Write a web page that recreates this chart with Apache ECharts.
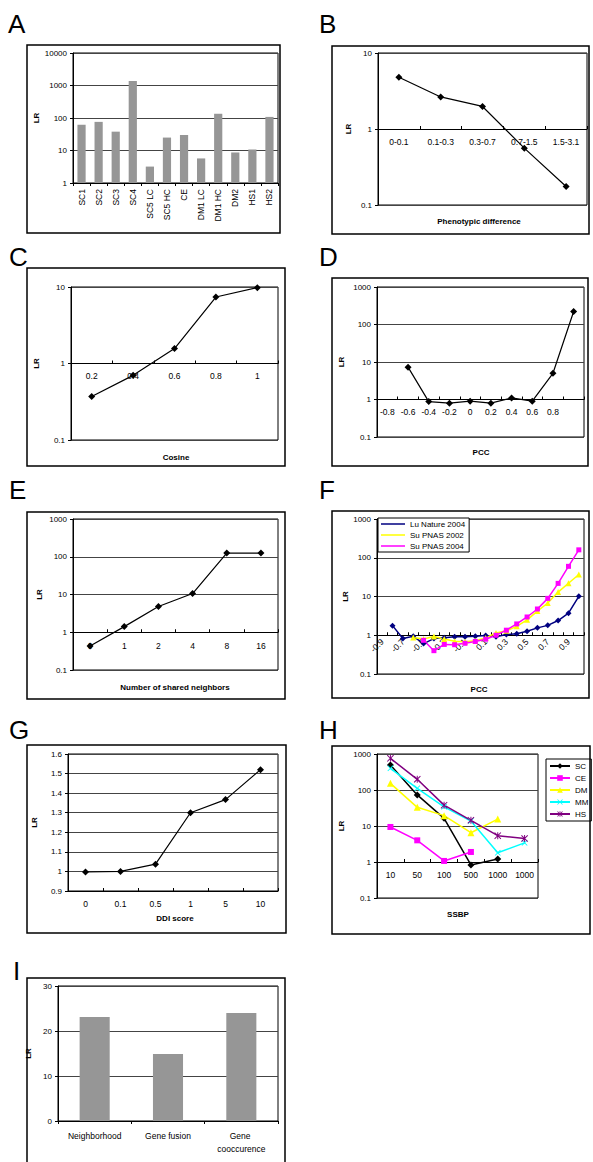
<!DOCTYPE html>
<html><head><meta charset="utf-8">
<script src="https://cdn.jsdelivr.net/npm/echarts@6/dist/echarts.min.js"></script>
<style>html,body{margin:0;padding:0;background:#fff}#c{width:593px;height:1162px}</style>
</head><body><div id="c"></div>
<script>
// ---------- DATA ----------
const aCategories = ['SC1','SC2','SC3','SC4','SC5 LC','SC5 HC','CE','DM1 LC','DM1 HC','DM2','HS1','HS2'];
const aValues = [62, 76, 38, 1380, 3.2, 25, 30, 5.7, 135, 8.7, 10.7, 108];

const bCategories = ['0-0.1','0.1-0.3','0.3-0.7','0.7-1.5','1.5-3.1'];
const bValues = [4.8, 2.64, 1.98, 0.56, 0.175];

const cCategories = ['0.2','0.4','0.6','0.8','1'];
const cValues = [0.37, 0.70, 1.57, 7.4, 9.8];

const dCategories = ['-0.8','-0.6','-0.4','-0.2','0','0.2','0.4','0.6','0.8','1'];
const dTickLabels = ['-0.8','-0.6','-0.4','-0.2','0','0.2','0.4','0.6','0.8',''];
const dValues = [null, 7.3, 0.88, 0.80, 0.90, 0.80, 1.1, 0.90, 5.0, 222];

const eCategories = ['0','1','2','4','8','16'];
const eValues = [0.43, 1.41, 4.8, 10.6, 125, 125];

const fCategories = ['-0.9','-0.8','-0.7','-0.6','-0.5','-0.4','-0.3','-0.2','-0.1','0','0.1','0.2','0.3','0.4','0.5','0.6','0.7','0.8','0.9','1'];
const fLuNature2004 = [null, 1.77, 0.82, 0.94, 0.61, 0.82, 0.86, 0.91, 0.92, 0.94, 0.98, 0.92, 1.04, 1.1, 1.27, 1.55, 1.8, 2.4, 3.7, 10.1];
const fSuPNAS2002 = [null, null, null, 0.88, 0.8, 0.93, 0.8, 0.7, 0.68, 0.72, 0.85, 1.15, 1.3, 1.7, 2.5, 4.2, 6.8, 13, 22, 37];
const fSuPNAS2004 = [null, null, null, null, 0.74, 0.40, 0.58, 0.57, 0.62, 0.69, 0.79, 1.0, 1.35, 1.96, 2.96, 4.76, 8.95, 21.8, 60, 160];

const gCategories = ['0','0.1','0.5','1','5','10'];
const gValues = [0.997, 1.0, 1.037, 1.30, 1.367, 1.52];

const hCategories = ['10','50','100','500','1000','1000'];
const hSC = [495, 73, 16.3, 0.83, 1.21, null];
const hCE = [9.4, 4.0, 1.07, 1.9, null, null];
const hDM = [153, 33, 19.4, 6.5, 15.6, null];
const hMM = [400, 111, 34, 13.8, 1.8, 3.4];
const hHS = [757, 198, 38, 14.4, 5.4, 4.5];

const iCategories = ['Neighborhood','Gene fusion','Gene cooccurence'];
const iValues = [23.1, 14.9, 24.0];

const panelLetters = ['A','B','C','D','E','F','G','H','I'];
const xTitles = ['', 'Phenotypic difference', 'Cosine', 'PCC', 'Number of shared neighbors', 'PCC', 'DDI score', 'SSBP', ''];

// ---------- BUILD ----------
const FONT = '"Liberation Sans", Arial, sans-serif';
const grids = [], xAxes = [], yAxes = [], series = [], graphics = [], legends = [];
const numFmt = v => String(+(+v).toPrecision(6));

function addPanel(p) {
  const gi = grids.length;
  grids.push({left: p.x, top: p.y, width: p.w, height: p.h, show: true, borderColor: '#000', borderWidth: 1,
    backgroundColor: '#fff', containLabel: false, outerBoundsMode: 'none'});
  let offset = 0;
  if (p.log && p.cross !== undefined) {
    offset = -p.h * (Math.log10(p.cross) - Math.log10(p.min)) / (Math.log10(p.max) - Math.log10(p.min));
  }
  xAxes.push({
    gridIndex: gi, type: 'category', data: p.cats, offset: offset, boundaryGap: true, position: 'bottom',
    axisLine: {show: true, onZero: false, lineStyle: {color: '#000', width: 1}},
    axisTick: {show: true, inside: !!p.tickInside, length: 3, alignWithLabel: false, interval: 0, lineStyle: {color: '#000'}},
    axisLabel: {interval: p.labelInterval !== undefined ? p.labelInterval : 0, rotate: p.rotate || 0,
      margin: p.margin !== undefined ? p.margin : 8, fontSize: 8.5, color: '#000', fontFamily: FONT,
      hideOverlap: false, formatter: p.xFormatter, width: p.labelWidth, overflow: p.labelWidth ? 'break' : undefined,
      lineHeight: p.lineHeight},
    splitLine: {show: false}
  });
  yAxes.push({
    gridIndex: gi, type: p.log ? 'log' : 'value', logBase: 10, min: p.min, max: p.max, interval: p.interval,
    name: 'LR', nameLocation: 'middle', nameGap: p.nameGap, nameRotate: 90,
    nameTextStyle: {fontWeight: 'bold', fontSize: 8, fontFamily: FONT, color: '#000'},
    axisLine: {show: true, lineStyle: {color: '#000', width: 1}},
    axisTick: {show: true, length: 3, lineStyle: {color: '#000'}},
    axisLabel: {fontSize: 8, color: '#000', fontFamily: FONT, margin: 6, showMinLabel: true, showMaxLabel: true, formatter: numFmt},
    splitLine: {show: true, lineStyle: {color: '#444', width: 1}}
  });
  graphics.push({type: 'rect', shape: {x: p.box[0], y: p.box[1], width: p.box[2], height: p.box[3]},
    style: {fill: 'none', stroke: '#000', lineWidth: 1.5}, z: 100, silent: true});
  graphics.push({type: 'text', x: p.letter[0], y: p.letter[1], z: 100, silent: true,
    style: {text: p.letterText, font: '26px ' + FONT, fill: '#000', textAlign: 'left', textVerticalAlign: 'middle', align: 'left', verticalAlign: 'middle'}});
  if (p.title) {
    graphics.push({type: 'text', x: p.titlePos[0], y: p.titlePos[1], z: 100, silent: true,
      style: {text: p.title, font: 'bold 8px ' + FONT, fill: '#000', textAlign: 'center', textVerticalAlign: 'middle', align: 'center', verticalAlign: 'middle'}});
  }
  return gi;
}

function diamondLine(gi, name, data) {
  series.push({type: 'line', name: name, xAxisIndex: gi, yAxisIndex: gi, data: data,
    symbol: 'diamond', symbolSize: 7, lineStyle: {color: '#000', width: 1.2}, itemStyle: {color: '#000'}});
}

// A
let gi = addPanel({x: 73, y: 53, w: 205, h: 130, log: true, min: 1, max: 10000, cats: aCategories,
  rotate: 90, margin: 6, nameGap: 30, box: [27, 45, 253, 188], letter: [8, 24], letterText: panelLetters[0]});
series.push({type: 'bar', name: 'A', xAxisIndex: gi, yAxisIndex: gi, data: aValues, itemStyle: {color: '#969696'}, barCategoryGap: '52%'});

// B
gi = addPanel({x: 378, y: 53, w: 209, h: 152, log: true, min: 0.1, max: 10, cross: 1, cats: bCategories, tickInside: true,
  nameGap: 26, box: [332, 46, 257, 188], letter: [319, 24], letterText: panelLetters[1], title: xTitles[1], titlePos: [479, 221]});
diamondLine(gi, 'B', bValues);

// C
gi = addPanel({x: 71, y: 287, w: 207, h: 153, log: true, min: 0.1, max: 10, cross: 1, cats: cCategories, tickInside: true,
  nameGap: 31, box: [27, 268, 258, 198], letter: [9, 257], letterText: panelLetters[2], title: xTitles[2], titlePos: [176, 457]});
diamondLine(gi, 'C', cValues);

// D
gi = addPanel({x: 377, y: 287, w: 207, h: 150, log: true, min: 0.1, max: 1000, cross: 1, cats: dCategories, tickInside: true,
  xFormatter: (v, i) => dTickLabels[i],
  nameGap: 32, box: [332, 278, 256, 188], letter: [319, 257], letterText: panelLetters[3], title: xTitles[3], titlePos: [481, 452]});
diamondLine(gi, 'D', dValues);

// E
gi = addPanel({x: 73, y: 519, w: 205, h: 151, log: true, min: 0.1, max: 1000, cross: 1, cats: eCategories, tickInside: true,
  margin: 9, nameGap: 30, box: [27, 512, 258, 187], letter: [9, 490], letterText: panelLetters[4], title: xTitles[4], titlePos: [175, 687]});
diamondLine(gi, 'E', eValues);

// F
gi = addPanel({x: 377, y: 519, w: 207, h: 155, log: true, min: 0.1, max: 1000, cross: 1, cats: fCategories, tickInside: true,
  rotate: 45, labelInterval: 1, margin: 5,
  nameGap: 27, box: [332, 511, 257, 187], letter: [319, 490], letterText: panelLetters[5], title: xTitles[5], titlePos: [479, 689]});
series.push({type: 'line', name: 'Lu Nature 2004', xAxisIndex: gi, yAxisIndex: gi, data: fLuNature2004,
  symbol: 'diamond', symbolSize: 6, lineStyle: {color: '#000080', width: 1.5}, itemStyle: {color: '#000080'}});
series.push({type: 'line', name: 'Su PNAS 2002', xAxisIndex: gi, yAxisIndex: gi, data: fSuPNAS2002,
  symbol: 'triangle', symbolSize: 6, lineStyle: {color: '#FFFF00', width: 1.5}, itemStyle: {color: '#FFFF00'}});
series.push({type: 'line', name: 'Su PNAS 2004', xAxisIndex: gi, yAxisIndex: gi, data: fSuPNAS2004,
  symbol: 'rect', symbolSize: 5, lineStyle: {color: '#FF00FF', width: 1.5}, itemStyle: {color: '#FF00FF'}});
legends.push({left: 378, top: 518, orient: 'vertical', data: ['Lu Nature 2004', 'Su PNAS 2002', 'Su PNAS 2004'],
  icon: 'rect', itemWidth: 24, itemHeight: 1.5, itemGap: 3, padding: [2, 4, 2, 3], borderColor: '#000', borderWidth: 1,
  backgroundColor: '#fff', selectedMode: false, z: 50,
  textStyle: {fontSize: 8, fontFamily: FONT, color: '#000'}});

// G
gi = addPanel({x: 68, y: 754, w: 210, h: 137, log: false, min: 0.9, max: 1.6, interval: 0.1, cats: gCategories, tickInside: true,
  nameGap: 30, box: [27, 745, 259, 188], letter: [9, 730], letterText: panelLetters[6], title: xTitles[6], titlePos: [175, 918]});
diamondLine(gi, 'G', gValues);

// H
gi = addPanel({x: 377, y: 754, w: 161, h: 144, log: true, min: 0.1, max: 1000, cross: 1, cats: hCategories, tickInside: true,
  nameGap: 32, box: [332, 746, 258, 188], letter: [319, 730], letterText: panelLetters[7], title: xTitles[7], titlePos: [458, 914]});
const xPath = 'path://M0,1L1,0L5,4L9,0L10,1L6,5L10,9L9,10L5,6L1,10L0,9L4,5Z';
const starPath = 'path://M0,1L1,0L5,4L9,0L10,1L6,5L10,9L9,10L5,6L1,10L0,9L4,5ZM4.3,0L5.7,0L5.7,10L4.3,10Z';
const hSeries = [
  ['SC', hSC, '#000000', 'diamond', 7],
  ['CE', hCE, '#FF00FF', 'rect', 6],
  ['DM', hDM, '#FFFF00', 'triangle', 7],
  ['MM', hMM, '#00FFFF', xPath, 6],
  ['HS', hHS, '#800080', starPath, 7]
];
hSeries.forEach(s => series.push({type: 'line', name: s[0], xAxisIndex: gi, yAxisIndex: gi, data: s[1],
  symbol: s[3], symbolSize: s[4], lineStyle: {color: s[2], width: 1.5}, itemStyle: {color: s[2]}}));
legends.push({left: 546, top: 759, orient: 'vertical', data: hSeries.map(s => s[0]),
  itemWidth: 20, itemHeight: 7, itemGap: 4, padding: [3, 3, 3, 3], borderColor: '#000', borderWidth: 1,
  backgroundColor: '#fff', selectedMode: false,
  textStyle: {fontSize: 8, fontFamily: FONT, color: '#000'}});

// I
gi = addPanel({x: 58, y: 986, w: 220, h: 135, log: false, min: 0, max: 30, interval: 10, cats: iCategories, tickInside: false,
  labelWidth: 60, lineHeight: 13,
  nameGap: 26, box: [27, 978, 258, 200], letter: [13, 971], letterText: panelLetters[8]});
series.push({type: 'bar', name: 'I', xAxisIndex: gi, yAxisIndex: gi, data: iValues, itemStyle: {color: '#969696'}, barCategoryGap: '59%'});

const chart = echarts.init(document.getElementById('c'), null, {renderer: 'svg', width: 593, height: 1162});
chart.setOption({
  animation: false,
  backgroundColor: '#fff',
  textStyle: {fontFamily: FONT},
  grid: grids, xAxis: xAxes, yAxis: yAxes, series: series, legend: legends,
  graphic: {elements: graphics}
});
</script></body></html>
